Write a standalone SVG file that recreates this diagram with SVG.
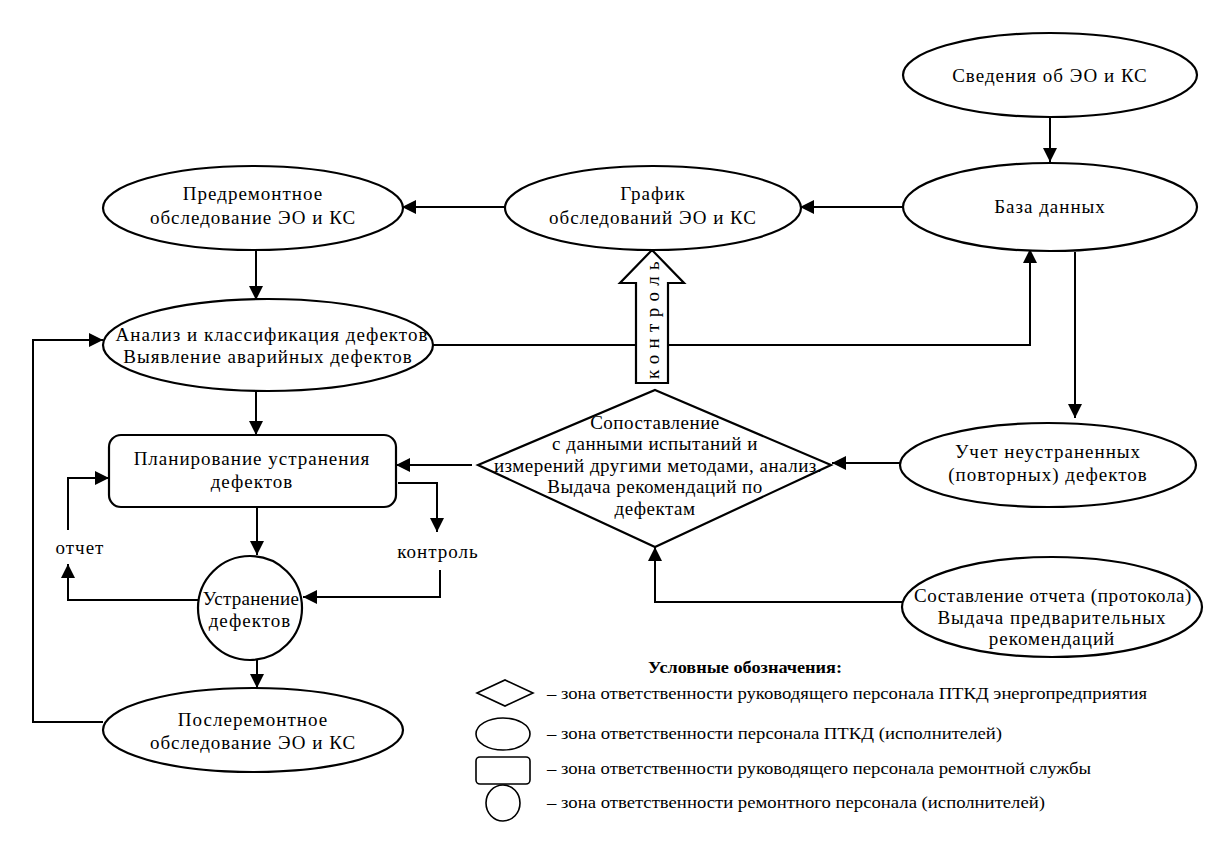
<svg xmlns="http://www.w3.org/2000/svg" width="1213" height="842" viewBox="0 0 1213 842">
<defs>
<marker id="ah" viewBox="0 0 14 14" refX="14" refY="7" markerWidth="14" markerHeight="14" markerUnits="userSpaceOnUse" orient="auto">
<path d="M0,0 L14,7 L0,14 Z" fill="#000"/>
</marker>
</defs>
<style>
.s{fill:#fff;stroke:#000;stroke-width:2.2}
.t{font-family:"Liberation Serif","Times New Roman",serif;font-size:19px;fill:#000;text-anchor:middle;letter-spacing:1px}
.c{fill:none;stroke:#000;stroke-width:2}
.l{font-family:"Liberation Serif","Times New Roman",serif;font-size:16px;fill:#000}
.lt{font-family:"Liberation Serif","Times New Roman",serif;font-size:16px;font-weight:bold;fill:#000}
.ls{fill:#fff;stroke:#000;stroke-width:1.6}
</style>
<rect width="1213" height="842" fill="#fff"/>
<g id="connectors">
<line class="c" x1="1050" y1="118" x2="1050" y2="162" marker-end="url(#ah)"/>
<line class="c" x1="903" y1="207" x2="800" y2="207" marker-end="url(#ah)"/>
<line class="c" x1="505" y1="207" x2="402" y2="207" marker-end="url(#ah)"/>
<line class="c" x1="256" y1="250" x2="256" y2="300" marker-end="url(#ah)"/>
<polyline class="c" points="433,345 1030,345 1030,249" marker-end="url(#ah)"/>
<line class="c" x1="1075" y1="252" x2="1075" y2="418" marker-end="url(#ah)"/>
<line class="c" x1="900" y1="463" x2="832" y2="463" marker-end="url(#ah)"/>
<polyline class="c" points="903,602 655,602 655,547" marker-end="url(#ah)"/>
<line class="c" x1="472" y1="465" x2="396" y2="465" marker-end="url(#ah)"/>
<line class="c" x1="256" y1="392" x2="256" y2="435" marker-end="url(#ah)"/>
<line class="c" x1="257" y1="507" x2="257" y2="555" marker-end="url(#ah)"/>
<polyline class="c" points="398,483 437,483 437,532" marker-end="url(#ah)"/>
<polyline class="c" points="440,570 440,597 303,597" marker-end="url(#ah)"/>
<polyline class="c" points="198,600 68,600 68,564" marker-end="url(#ah)"/>
<polyline class="c" points="68,530 68,478 109,478" marker-end="url(#ah)"/>
<line class="c" x1="257" y1="660" x2="257" y2="688" marker-end="url(#ah)"/>
<polyline class="c" points="103,722 33,722 33,340 103,340" marker-end="url(#ah)"/>
<text class="t" x="80" y="554">отчет</text>
<text class="t" x="438" y="558">контроль</text>
</g>
<g id="kontrol">
<path class="s" d="M636,383 L636,283 L620,283 L652,250 L684,283 L668,283 L668,383 Z"/>
<text class="t" transform="translate(659,317) rotate(-90)" style="letter-spacing:6.3px">контроль</text>
</g>
<g id="svedeniya">
<ellipse class="s" cx="1050" cy="75" rx="147" ry="42"/>
<text class="t" x="1050" y="82">Сведения об ЭО и КС</text>
</g>
<g id="baza">
<ellipse class="s" cx="1050" cy="207" rx="147" ry="44"/>
<text class="t" x="1050" y="213">База данных</text>
</g>
<g id="grafik">
<ellipse class="s" cx="653" cy="208" rx="148" ry="42"/>
<text class="t" x="653" y="200">График</text>
<text class="t" x="653" y="224">обследований ЭО и КС</text>
</g>
<g id="predremont">
<ellipse class="s" cx="253" cy="208" rx="150" ry="42"/>
<text class="t" x="253" y="200">Предремонтное</text>
<text class="t" x="253" y="224">обследование ЭО и КС</text>
</g>
<g id="analiz">
<ellipse class="s" cx="268" cy="345" rx="165" ry="46"/>
<text class="t" x="272" y="341">Анализ и классификация дефектов</text>
<text class="t" x="268" y="363">Выявление аварийных дефектов</text>
</g>
<g id="planirovanie">
<rect class="s" x="109" y="435" width="287" height="72" rx="12"/>
<text class="t" x="252" y="465">Планирование устранения</text>
<text class="t" x="252" y="488">дефектов</text>
</g>
<g id="ustranenie">
<circle class="s" cx="250" cy="608" r="52"/>
<text class="t" x="251" y="605" style="letter-spacing:0.3px">Устранение</text>
<text class="t" x="250" y="627">дефектов</text>
</g>
<g id="posleremont">
<ellipse class="s" cx="253" cy="730" rx="150" ry="42"/>
<text class="t" x="253" y="726">Послеремонтное</text>
<text class="t" x="253" y="749">обследование ЭО и КС</text>
</g>
<g id="sopostavlenie">
<path class="s" d="M655,390 L831,465 L655,547 L478,465 Z"/>
<text class="t" x="655" y="429" style="letter-spacing:0.5px">Сопоставление</text>
<text class="t" x="655" y="450" style="letter-spacing:0.5px">с данными испытаний и</text>
<text class="t" x="658" y="472" style="letter-spacing:0.5px">измерений другими методами, анализ.</text>
<text class="t" x="655" y="493" style="letter-spacing:0.5px">Выдача рекомендаций по</text>
<text class="t" x="655" y="515" style="letter-spacing:0.5px">дефектам</text>
</g>
<g id="uchet">
<ellipse class="s" cx="1048" cy="465" rx="148" ry="42"/>
<text class="t" x="1048" y="458">Учет неустраненных</text>
<text class="t" x="1048" y="481">(повторных) дефектов</text>
</g>
<g id="sostavlenie">
<ellipse class="s" cx="1052" cy="607" rx="150" ry="50"/>
<text class="t" x="1053" y="602" style="letter-spacing:0.6px">Составление отчета (протокола)</text>
<text class="t" x="1052" y="624">Выдача предварительных</text>
<text class="t" x="1052" y="645">рекомендаций</text>
</g>
<g id="legend">
<text class="lt" x="745" y="673" text-anchor="middle" textLength="194" lengthAdjust="spacingAndGlyphs">Условные обозначения:</text>
<path class="ls" d="M477,693 L505,680 L533,693 L505,706 Z"/>
<text class="l" x="547" y="699" textLength="600" lengthAdjust="spacingAndGlyphs">– зона ответственности руководящего персонала ПТКД энергопредприятия</text>
<ellipse class="ls" cx="503" cy="734" rx="27" ry="16"/>
<text class="l" x="547" y="739" textLength="455" lengthAdjust="spacingAndGlyphs">– зона ответственности персонала ПТКД (исполнителей)</text>
<rect class="ls" x="476" y="757" width="54" height="27" rx="4"/>
<text class="l" x="547" y="774" textLength="544" lengthAdjust="spacingAndGlyphs">– зона ответственности руководящего персонала ремонтной службы</text>
<ellipse class="ls" cx="503" cy="803" rx="17" ry="18"/>
<text class="l" x="547" y="808" textLength="498" lengthAdjust="spacingAndGlyphs">– зона ответственности ремонтного персонала (исполнителей)</text>
</g>
</svg>
